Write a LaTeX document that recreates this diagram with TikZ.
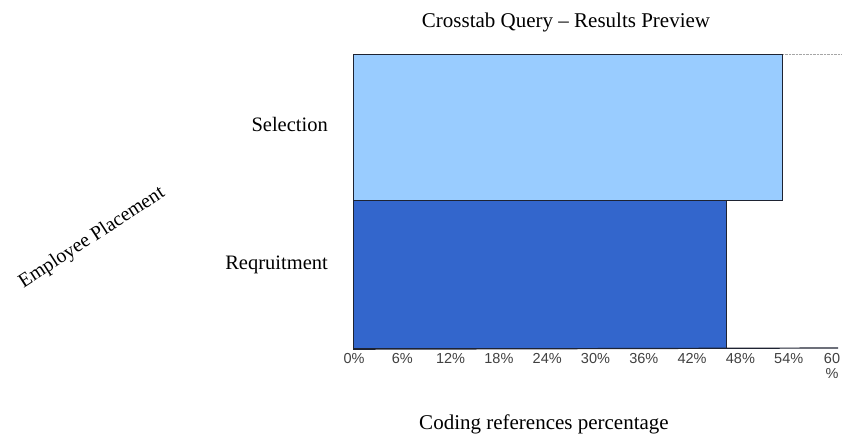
\documentclass[tikz,border=0pt]{standalone}
\usepackage{fontspec}
\setmainfont{Liberation Serif}
\setsansfont{Liberation Sans}
\usetikzlibrary{positioning}
\definecolor{selcolor}{RGB}{153,204,255}
\definecolor{reqcolor}{RGB}{51,102,204}
\definecolor{edgecolor}{RGB}{30,35,50}

\begin{document}
\begin{tikzpicture}[
    x=1pt, y=-1pt,
    bar/.style={draw=edgecolor, line width=1.2pt, inner sep=0pt, anchor=north west},
    tick/.style={font=\sffamily\fontsize{14.5}{15}\selectfont, text=black!75, anchor=north},
    cat/.style={font=\fontsize{20.5}{22}\selectfont, anchor=east, inner sep=0pt},
    label/.style={font=\fontsize{21}{23}\selectfont, inner sep=0pt}
  ]
    \useasboundingbox (0,0) rectangle (842,436);

    %% Bars
    \node[bar, fill=selcolor, minimum width=429pt, minimum height=146pt] (sel) at (353,54) {};
    \node[bar, fill=reqcolor, minimum width=373pt, minimum height=148pt] (req) at (353,200) {};
    \coordinate (gridend) at (842,54);
    \draw[gray!70, densely dotted] (sel.north east) -- (gridend);

    %% Axis
    \coordinate (axend) at (838,348);
    \draw[edgecolor, line width=1.2pt] (req.south west) -- (axend);
    \foreach \p [count=\i from 0] in {0,6,...,54}
      \node[tick] (t\i) at (354+48.3*\i,350) {\p\%};
    \node[tick, align=center] (t10) at (832,350) {60\\\%};

    %% Category labels
    \node[cat] (lsel) at (328,124) {Selection};
    \node[cat] (lreq) at (328,265) {Reqruitment};
    \node[label, font=\fontsize{20}{22}\selectfont, rotate=33] (yaxis) at (92,238) {Employee Placement};

    %% Titles
    \node[label] (title) at (566,22) {Crosstab Query -- Results Preview};
    \node[label] (xaxis) at (544,424) {Coding references percentage};
  \end{tikzpicture}
\end{document}
